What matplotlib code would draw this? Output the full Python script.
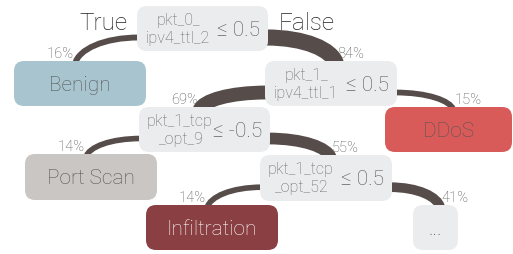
import matplotlib
matplotlib.use("Agg")
import matplotlib.pyplot as plt
from matplotlib.patches import FancyBboxPatch, PathPatch
from matplotlib.path import Path

# tree data
split_features = ["pkt_0_\nipv4_ttl_2", "pkt_1_\nipv4_ttl_1", "pkt_1_tcp\n_opt_9", "pkt_1_tcp\n_opt_52"]
split_thresholds = ["≤ 0.5", "≤ 0.5", "≤ -0.5", "≤ 0.5"]
leaf_labels = ["Benign", "DDoS", "Port Scan", "Infiltration", "..."]
# (parent, child, share of samples in %)
edges = [("s0", "Benign", 16), ("s0", "s1", 84),
         ("s1", "s2", 69), ("s1", "DDoS", 15),
         ("s2", "Port Scan", 14), ("s2", "s3", 55),
         ("s3", "Infiltration", 14), ("s3", "...", 41)]

# layout (pixel boxes: left, top, width, height)
boxes = {
    "s0": (137, 7, 131, 45),
    "s1": (265, 62, 132, 45),
    "s2": (139, 108, 131, 45),
    "s3": (260, 156, 132, 46),
    "Benign": (14, 62, 132, 45),
    "DDoS": (385, 108, 127, 45),
    "Port Scan": (25, 155, 132, 46),
    "Infiltration": (146, 206, 132, 45),
    "...": (413, 206, 45, 45),
}
fill = {"split": "#ebecee", "Benign": "#a8c5cf", "DDoS": "#d95b59",
        "Port Scan": "#cac6c3", "Infiltration": "#8a4043", "...": "#ebecee"}
text_col = {"Infiltration": "white"}
link_col = "#564c4a"

plt.rcParams["font.family"] = ["Roboto", "DejaVu Sans"]

fig = plt.figure(figsize=(5.13, 2.55), dpi=100)
ax = fig.add_axes([0, 0, 1, 1])
ax.set_xlim(0, 513)
ax.set_ylim(255, 0)
ax.axis("off")

px = 72 / 100  # pixel -> point


def box(key, color):
    l, t, w, h = boxes[key]
    ax.add_patch(FancyBboxPatch((l, t), w, h, boxstyle="round,pad=0,rounding_size=10",
                                fc=color, ec="none", zorder=3))


# links
for parent, child, pct in edges:
    pl, pt, pw, ph = boxes[parent]
    cl, ct, cw, ch = boxes[child]
    ccx = cl + cw / 2
    right = ccx > pl + pw / 2
    x0 = pl + pw - 2 if right else pl + 2
    y0 = pt + ph * 0.7
    x1 = ccx + (5 if right else -5)
    y1 = ct + 3
    verts = [(x0, y0), (x0 + 0.55 * (x1 - x0), y0), (x1 - 0.05 * (x1 - x0), y0 + 0.45 * (y1 - y0)), (x1, y1)]
    path = Path(verts, [Path.MOVETO, Path.CURVE4, Path.CURVE4, Path.CURVE4])
    ax.add_patch(PathPatch(path, fc="none", ec=link_col, lw=(3.5 + 0.15 * pct) * px,
                           capstyle="butt", zorder=2))
    ax.text(x1 + (1 if right else -1), ct - 4, f"{pct}%", ha="left" if right else "right",
            va="baseline", fontsize=10.5, color="#555555", fontweight="light", zorder=4)

# split nodes
for i, key in enumerate(["s0", "s1", "s2", "s3"]):
    box(key, fill["split"])
    l, t, w, h = boxes[key]
    ax.text(l + 41, t + h / 2, split_features[i], ha="center", va="center", fontsize=11.5,
            color="#666666", fontweight="light", linespacing=1.25, zorder=4)
    ax.text(l + w - 8, t + h / 2 + 1, split_thresholds[i], ha="right", va="center", fontsize=15,
            color="#555555", fontweight="light", zorder=4)

# leaves
for key in leaf_labels:
    box(key, fill[key])
    l, t, w, h = boxes[key]
    ax.text(l + w / 2, t + h / 2 + 1, key, ha="center", va="center", fontsize=15,
            color=text_col.get(key, "#555555"), fontweight="light", zorder=4)

l, t, w, h = boxes["s0"]
ax.text(l - 9, 23, "True", ha="right", va="center", fontsize=17.5, color="#222222", fontweight="light")
ax.text(l + w + 11, 23, "False", ha="left", va="center", fontsize=17.5, color="#222222", fontweight="light")

fig.savefig("out.png", dpi=100)
